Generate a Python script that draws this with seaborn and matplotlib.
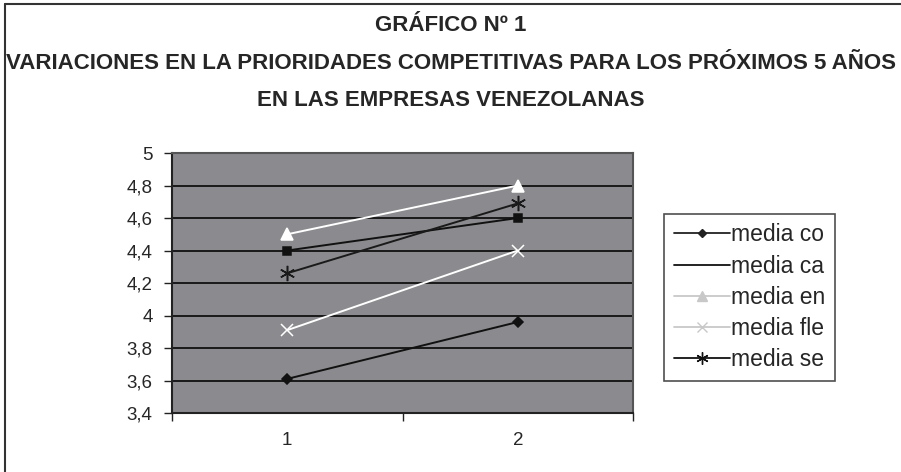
import matplotlib
matplotlib.use("Agg")
import matplotlib.pyplot as plt
import seaborn as sns
from matplotlib.lines import Line2D

# datos
periodos = ["1", "2"]
media_co = [3.61, 3.96]
media_ca = [4.40, 4.60]
media_en = [4.50, 4.80]
media_fle = [3.91, 4.40]
media_se = [4.26, 4.69]
nombres = ["media co", "media ca", "media en", "media fle", "media se"]
series = [media_co, media_ca, media_en, media_fle, media_se]
yticks = [3.4, 3.6, 3.8, 4.0, 4.2, 4.4, 4.6, 4.8, 5.0]
ylabels = ["3,4", "3,6", "3,8", "4", "4,2", "4,4", "4,6", "4,8", "5"]

sns.set_style("white")
plt.rcParams['font.family'] = ['Liberation Sans', 'DejaVu Sans']

colores = ["#111111", "#111111", "#ffffff", "#ffffff", "#1a1a1a"]
colores_ley = ["#222222", "#111111", "#c8c8c8", "#c8c8c8", "#111111"]
marcadores = ["D", "s", "^", "x", (6, 2, 0)]
tam = [5, 6, 9, 9, 11]

fig = plt.figure(figsize=(9.01, 4.72), dpi=100)
ax = fig.add_axes([0.1909, 0.125, 0.5117, 0.5508])
ax.set_facecolor("#8b8b8f")

for vals, c, m, s in zip(series, colores, marcadores, tam):
    sns.lineplot(x=periodos, y=vals, ax=ax, color=c, marker=m, markersize=s,
                 markeredgecolor=c, markeredgewidth=1.1, linewidth=1.4,
                 sort=False, legend=False)

ax.set_ylim(3.4, 5.0)
ax.set_yticks(yticks)
ax.set_yticklabels(ylabels, fontsize=13.5)
ax.yaxis.grid(True, color="#111111", linewidth=1.3)
ax.set_xlim(-0.5, 1.5)
ax.set_xticks([-0.5, 0.5, 1.5])
ax.set_xticklabels(["", "", ""])
ax.set_xticks([0, 1], minor=True)
ax.set_xticklabels(periodos, minor=True, fontsize=13.5)
ax.tick_params(axis="x", which="minor", length=0, pad=14)
ax.tick_params(axis="x", which="major", length=6, width=1, color="#222222", direction="out")
ax.tick_params(axis="y", length=6, width=1, color="#222222", direction="out", pad=8)
ax.tick_params(bottom=True, left=True)
ax.set_xlabel("")
ax.set_ylabel("")
for lado in ["top", "right"]:
    ax.spines[lado].set_color("#555555")
    ax.spines[lado].set_linewidth(1.5)
for lado in ["left", "bottom"]:
    ax.spines[lado].set_color("#222222")
    ax.spines[lado].set_linewidth(1.5)

handles = [Line2D([0], [0], color=c, marker=m, markersize=s * 0.8, markeredgecolor=c,
                  linewidth=1.3) for c, m, s in zip(colores_ley, marcadores, tam)]
handles[1] = Line2D([0], [0], color="#111111", linewidth=1.3)
leg = fig.legend(handles, nombres, loc="upper left", bbox_to_anchor=(0.737, 0.547),
                 frameon=True, fancybox=False, fontsize=16.5, handlelength=2.45,
                 handletextpad=0.05, labelspacing=0.36, borderpad=0.42,
                 borderaxespad=0)
leg.get_frame().set_edgecolor("#222222")
leg.get_frame().set_linewidth(1.2)

fig.text(0.5, 0.947, "GRÁFICO Nº 1", ha="center", va="center", fontsize=16, fontweight="bold")
fig.text(0.5, 0.866, "VARIACIONES EN LA PRIORIDADES COMPETITIVAS PARA LOS PRÓXIMOS 5 AÑOS",
         ha="center", va="center", fontsize=16, fontweight="bold")
fig.text(0.5, 0.788, "EN LAS EMPRESAS VENEZOLANAS", ha="center", va="center",
         fontsize=16, fontweight="bold")

# marco parcial (arriba e izquierda)
fig.add_artist(Line2D([0.0055, 1.0], [0.991, 0.991], color="#333333", linewidth=1.5))
fig.add_artist(Line2D([0.0055, 0.0055], [0.0, 0.991], color="#333333", linewidth=1.5))

plt.savefig("out.png", dpi=100)
